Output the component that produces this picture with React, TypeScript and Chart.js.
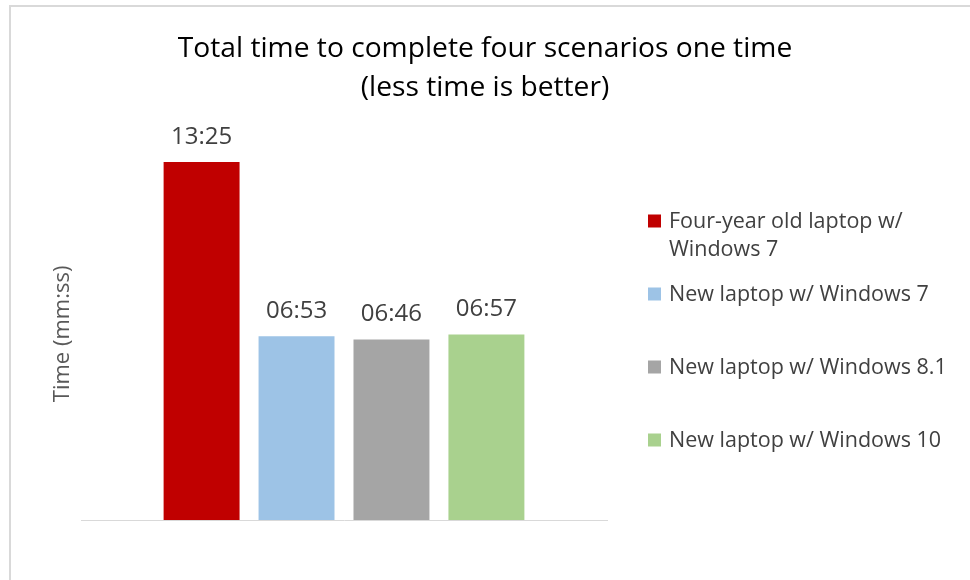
import React, { useEffect, useRef } from "react";
import { Chart, registerables } from "chart.js";

Chart.register(...registerables);

const titleLines = ["Total time to complete four scenarios one time", "(less time is better)"];
const yAxisTitle = "Time (mm:ss)";
const categories = [""];
const seriesNames = [
  "Four-year old laptop w/ Windows 7",
  "New laptop w/ Windows 7",
  "New laptop w/ Windows 8.1",
  "New laptop w/ Windows 10",
];
// total time in seconds (13:25, 06:53, 06:46, 06:57)
const seriesSeconds = [805, 413, 406, 417];
const seriesColors = ["#C00000", "#9DC3E6", "#A5A5A5", "#A9D18E"];
const yMax = 900;

const FONT = "'Open Sans', 'DejaVu Sans', sans-serif";

function fmt(sec: number): string {
  const m = Math.floor(sec / 60);
  const s = Math.round(sec % 60);
  return String(m).padStart(2, "0") + ":" + String(s).padStart(2, "0");
}

const framePlugin = {
  id: "frame",
  beforeDraw(chart: any) {
    const ctx = chart.ctx;
    ctx.save();
    ctx.fillStyle = "#ffffff";
    ctx.fillRect(0, 0, chart.width, chart.height);
    ctx.fillStyle = "#D9D9D9";
    ctx.fillRect(9, 5, chart.width - 9, 2);
    ctx.fillRect(9, 5, 2, chart.height - 5);
    ctx.restore();
  },
};

const yTitlePlugin = {
  id: "yTitle",
  afterDraw(chart: any) {
    const ctx = chart.ctx;
    const area = chart.chartArea;
    ctx.save();
    ctx.translate(63, (area.top + area.bottom) / 2 + 14);
    ctx.rotate(-Math.PI / 2);
    ctx.font = `22px ${FONT}`;
    ctx.fillStyle = "#595959";
    ctx.textAlign = "center";
    ctx.textBaseline = "middle";
    ctx.fillText(yAxisTitle, 0, 0);
    ctx.restore();
  },
};

const dataLabelPlugin = {
  id: "dataLabels",
  afterDatasetsDraw(chart: any) {
    const ctx = chart.ctx;
    ctx.save();
    ctx.font = `24px ${FONT}`;
    ctx.fillStyle = "#404040";
    ctx.textAlign = "center";
    ctx.textBaseline = "middle";
    chart.data.datasets.forEach((ds: any, i: number) => {
      const meta = chart.getDatasetMeta(i);
      meta.data.forEach((bar: any, j: number) => {
        ctx.fillText(fmt(ds.data[j]), bar.x, bar.y - 25);
      });
    });
    ctx.restore();
  },
};

const sideLegendPlugin = {
  id: "sideLegend",
  afterDraw(chart: any) {
    const ctx = chart.ctx;
    ctx.save();
    ctx.font = `21.5px ${FONT}`;
    ctx.textBaseline = "middle";
    ctx.textAlign = "left";
    const boxX = 648;
    const textX = 669;
    const maxW = 285;
    const lineH = 28;
    const startY = 221;
    const step = 73;
    chart.data.datasets.forEach((ds: any, i: number) => {
      const words = String(ds.label).split(" ");
      const lines: string[] = [];
      let cur = "";
      words.forEach((w) => {
        const test = cur ? cur + " " + w : w;
        if (ctx.measureText(test).width > maxW && cur) {
          lines.push(cur);
          cur = w;
        } else {
          cur = test;
        }
      });
      if (cur) lines.push(cur);
      const y = startY + i * step;
      ctx.fillStyle = ds.backgroundColor;
      ctx.fillRect(boxX, y - 6.5, 13, 13);
      ctx.fillStyle = "#404040";
      lines.forEach((ln, k) => ctx.fillText(ln, textX, y + 1 + k * lineH));
    });
    ctx.restore();
  },
};

export default function App() {
  const ref = useRef<HTMLCanvasElement | null>(null);

  useEffect(() => {
    document.body.style.margin = "0";
    if (!ref.current) return;
    const chart = new Chart(ref.current, {
      type: "bar",
      data: {
        labels: categories,
        datasets: seriesNames.map((name, i) => ({
          label: name,
          data: [seriesSeconds[i]],
          backgroundColor: seriesColors[i],
          borderWidth: 0,
          barPercentage: 0.8,
          categoryPercentage: 0.722,
        })),
      },
      options: {
        responsive: false,
        animation: false,
        layout: { padding: { left: 0, right: 0, top: 16, bottom: 60 } },
        plugins: {
          legend: { display: false },
          tooltip: { enabled: false },
          title: {
            display: true,
            text: titleLines,
            color: "#000000",
            font: { family: FONT, size: 28.2, weight: "normal", lineHeight: 1.38 },
            padding: { top: 14, bottom: 12 },
          },
        },
        scales: {
          x: {
            type: "category",
            ticks: { display: false },
            grid: { display: false, drawTicks: false },
            border: { display: true, color: "#D9D9D9", width: 1 },
          },
          y: {
            min: 0,
            max: yMax,
            ticks: { display: false },
            grid: { display: false, drawTicks: false },
            border: { display: false },
            afterFit: (s: any) => {
              s.width = 81;
            },
          },
          yRight: {
            position: "right",
            display: true,
            ticks: { display: false },
            grid: { display: false, drawTicks: false },
            border: { display: false },
            afterFit: (s: any) => {
              s.width = 363;
            },
          },
        },
      },
      plugins: [framePlugin, dataLabelPlugin, sideLegendPlugin, yTitlePlugin],
    });
    return () => chart.destroy();
  }, []);

  return (
    <div>
      <canvas ref={ref} width={970} height={580} style={{ display: "block" }} />
    </div>
  );
}
